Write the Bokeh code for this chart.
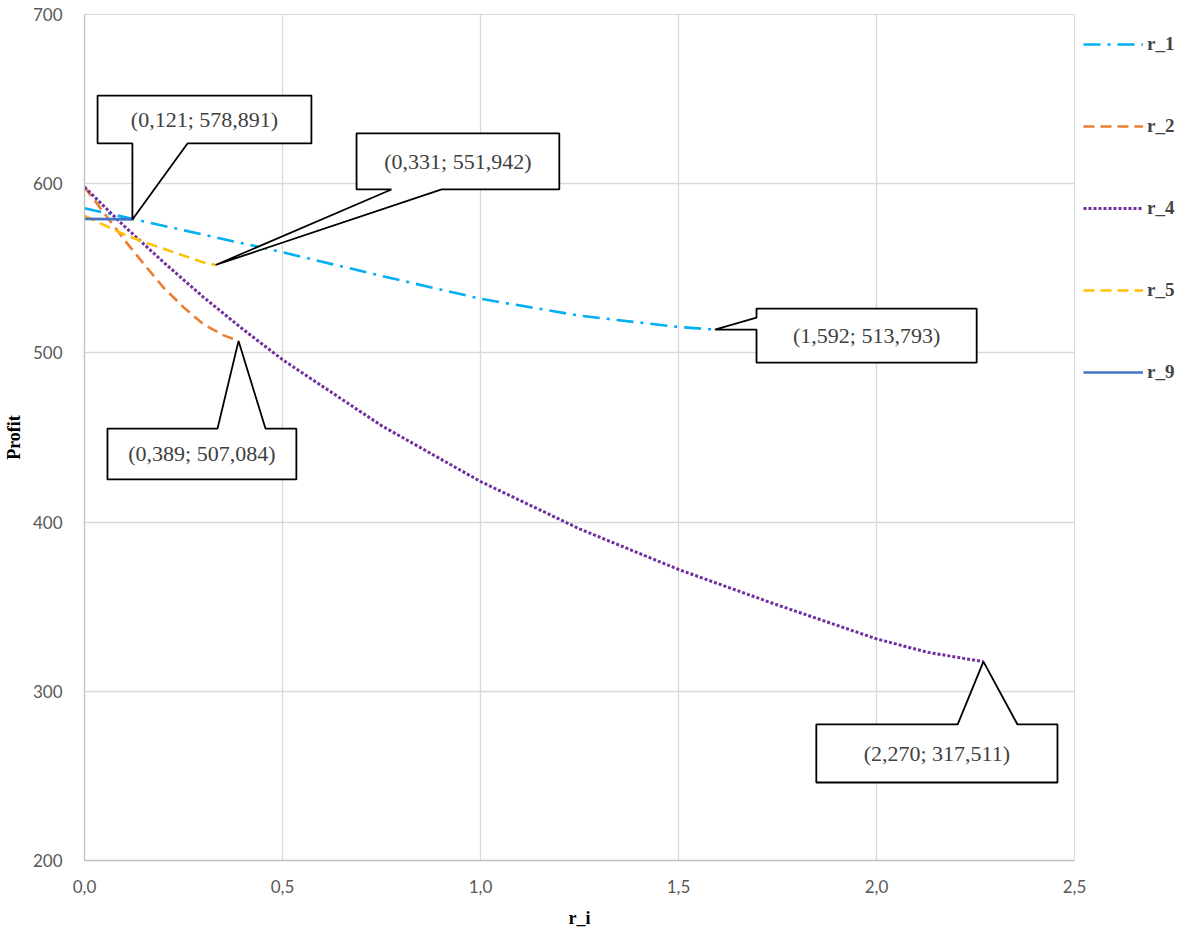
from bokeh.plotting import figure
from bokeh.models import FixedTicker, Legend, LegendItem
from bokeh.core.properties import value
from bokeh.embed import file_html
from bokeh.resources import INLINE

# ---- data ----
r1_x = [0.0, 0.121, 0.25, 0.5, 0.75, 1.0, 1.25, 1.5, 1.592]
r1_y = [585.5, 579.2, 572.5, 559.5, 545.5, 532.0, 522.0, 515.3, 513.793]

r2_x = [0.0, 0.05, 0.1, 0.15, 0.2, 0.25, 0.3, 0.35, 0.389]
r2_y = [598.0, 582.5, 567.0, 552.5, 538.5, 527.0, 517.0, 510.5, 507.084]

r4_x = [0.0, 0.1, 0.2, 0.3, 0.4, 0.5, 0.75, 1.0, 1.25, 1.5, 1.75, 2.0, 2.13, 2.27]
r4_y = [598.0, 575.0, 553.5, 533.0, 514.0, 496.0, 457.0, 424.0, 396.0, 372.0, 351.0, 331.0, 323.0, 317.511]

r5_x = [0.0, 0.05, 0.1, 0.15, 0.2, 0.25, 0.3, 0.331]
r5_y = [581.0, 575.5, 570.0, 565.5, 561.5, 557.5, 553.5, 551.942]

r9_x = [0.0, 0.121]
r9_y = [579.2, 578.891]

x_ticks = [0.0, 0.5, 1.0, 1.5, 2.0, 2.5]
x_tick_labels = ["0,0", "0,5", "1,0", "1,5", "2,0", "2,5"]
y_ticks = [200, 300, 400, 500, 600, 700]

# callout labels: marked point and text
call_pts_x = [0.121, 0.331, 1.592, 0.389, 2.270]
call_pts_y = [578.891, 551.942, 513.793, 507.084, 317.511]
call_texts = ["(0,121; 578,891)", "(0,331; 551,942)", "(1,592; 513,793)",
              "(0,389; 507,084)", "(2,270; 317,511)"]

# callout layout (box left, right, bottom, top, pointer side, pointer base a, b)
call_layout = [
    (0.033, 0.573, 623.8, 652.1, "bottom", 0.121, 0.260),
    (0.687, 1.199, 596.6, 629.7, "bottom", 0.775, 0.902),
    (1.697, 2.253, 494.3, 526.2, "left", 513.8, 520.9),
    (0.058, 0.535, 425.2, 455.3, "top", 0.336, 0.457),
    (1.848, 2.457, 246.1, 280.4, "top", 2.205, 2.356),
]

p = figure(frame_width=990, frame_height=846, x_range=(0, 2.5), y_range=(200, 700),
           output_backend="svg", toolbar_location=None,
           min_border_left=77, min_border_right=104, min_border_top=14,
           min_border_bottom=60)
p.outline_line_color = "#d9d9d9"
p.background_fill_color = "white"

for ax in (p.xaxis, p.yaxis):
    ax.major_tick_line_color = None
    ax.minor_tick_line_color = None
    ax.axis_line_color = "#bfbfbf"
    ax.axis_line_width = 1.3
    ax.major_label_text_font = "Lato"
    ax.major_label_text_font_size = "17px"
    ax.major_label_text_color = "#595959"
    ax.axis_label_text_font = "Liberation Serif"
    ax.axis_label_text_font_style = "bold"
    ax.axis_label_text_font_size = "18px"
    ax.axis_label_text_color = "#000000"

p.xaxis.ticker = FixedTicker(ticks=x_ticks)
p.xaxis.major_label_overrides = {t: l for t, l in zip(x_ticks, x_tick_labels)}
p.yaxis.ticker = FixedTicker(ticks=y_ticks)
p.xaxis.axis_label = "r_i"
p.yaxis.axis_label = "Profit"
p.xaxis.major_label_standoff = 13
p.yaxis.major_label_standoff = 16
p.xaxis.axis_label_standoff = 12
p.yaxis.axis_label_standoff = 6

p.grid.grid_line_color = "#d9d9d9"
p.grid.grid_line_width = 1.3

r1 = p.line(r1_x, r1_y, line_color="#00B0F0", line_width=2.6, line_dash="17 7 3 7")
r2 = p.line(r2_x, r2_y, line_color="#ED7D31", line_width=2.6, line_dash="11 6")
r4 = p.line(r4_x, r4_y, line_color="#7030A0", line_width=3, line_dash="3 2")
r5 = p.line(r5_x, r5_y, line_color="#FFC000", line_width=2.6, line_dash="11 6")
r9 = p.line(r9_x, r9_y, line_color="#4472C4", line_width=2.6)

# callouts
xs, ys = [], []
for (px, py, lay) in zip(call_pts_x, call_pts_y, call_layout):
    L, R, B, T, side, a, b = lay
    if side == "bottom":
        xs.append([L, R, R, b, px, a, L])
        ys.append([T, T, B, B, py, B, B])
    elif side == "top":
        xs.append([L, a, px, b, R, R, L])
        ys.append([T, T, py, T, T, B, B])
    else:
        xs.append([L, R, R, L, L, px, L])
        ys.append([T, T, B, B, a, py, b])
p.patches(xs, ys, fill_color="white", line_color="black", line_width=1.8)
cx = [(l[0] + l[1]) / 2 for l in call_layout]
cy = [(l[2] + l[3]) / 2 for l in call_layout]
p.text(x=cx, y=cy, text=call_texts, text_align="center", text_baseline="middle",
       text_font=value("Liberation Serif"), text_font_size="22px", text_color="#404040")

legend = Legend(items=[LegendItem(label="r_1", renderers=[r1]),
                       LegendItem(label="r_2", renderers=[r2]),
                       LegendItem(label="r_4", renderers=[r4]),
                       LegendItem(label="r_5", renderers=[r5]),
                       LegendItem(label="r_9", renderers=[r9])],
                location=(9, 477), glyph_width=60, glyph_height=20,
                spacing=60, label_standoff=4, padding=0, margin=0,
                label_text_font="Liberation Serif", label_text_font_style="bold",
                label_text_font_size="19px", border_line_color=None,
                background_fill_alpha=0)
p.add_layout(legend, "right")

open("out.html", "w").write(file_html(p, INLINE))
